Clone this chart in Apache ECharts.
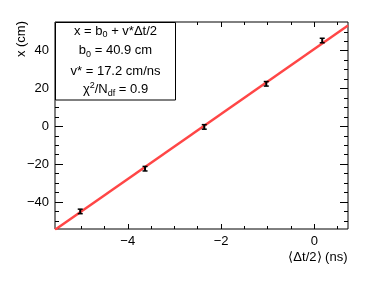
<!DOCTYPE html>
<html><head><meta charset="utf-8">
<script src="https://cdn.jsdelivr.net/npm/echarts@6/dist/echarts.min.js"></script>
<style>html,body{margin:0;padding:0;background:#fff}#c{width:390px;height:281px}</style>
</head><body><div id="c"></div>
<script>
// Data
const dtHalf = [-5.02, -3.63, -2.36, -1.03, 0.17];   // <Δt/2> (ns)
const xPos   = [-45.0, -22.4, -0.3, 22.5, 45.4];     // x (cm)
const xErr   = [1.2, 1.2, 1.2, 1.2, 1.2];            // error on x (cm)
const fitX   = [-5.56, 0.723];                        // fit line ends (ns)
const fitY   = [-54.7, 53.3];                         // fit line ends (cm)
const xMajorTicks = [-4, -2, 0];
const xMinorTicks = [-5.5, -5, -4.5, -3.5, -3, -2.5, -1.5, -1, -0.5, 0.5];
const yMajorTicks = [-40, -20, 0, 20, 40];
const yMinorTicks = [-50, -45, -35, -30, -25, -15, -10, -5, 5, 10, 15, 25, 30, 35, 45, 50];
const xRange = [-5.561, 0.723];
const yRange = [-54.3, 55.2];

const FONT = 'Liberation Sans';
const fmt = v => v < 0 ? '\u2212' + (-v) : String(v);

function xAx(pos, ticks, len, labels) {
  return {
    type: 'value', gridIndex: 0, position: pos, min: xRange[0], max: xRange[1],
    axisLine: {show: false, onZero: false}, splitLine: {show: false},
    axisTick: {show: true, inside: true, length: len, customValues: ticks, lineStyle: {color: '#000', width: 1}},
    axisLabel: labels ? {show: true, customValues: ticks, formatter: fmt, margin: 6, fontSize: 13, color: '#000', fontFamily: FONT} : {show: false}
  };
}
function yAx(pos, ticks, len, labels) {
  return {
    type: 'value', gridIndex: 0, position: pos, min: yRange[0], max: yRange[1],
    axisLine: {show: false, onZero: false}, splitLine: {show: false},
    axisTick: {show: true, inside: true, length: len, customValues: ticks, lineStyle: {color: '#000', width: 1}},
    axisLabel: labels ? {show: true, customValues: ticks, formatter: fmt, margin: 6, fontSize: 13, color: '#000', fontFamily: FONT} : {show: false}
  };
}

const points = dtHalf.map((t, i) => [t, xPos[i], xErr[i]]);
const fitData = fitX.map((t, i) => [t, fitY[i]]);

const chart = echarts.init(document.getElementById('c'), null, {renderer: 'canvas'});
const rich = {
  n: {fontSize: 13, fontFamily: FONT, color: '#000'},
  s: {fontSize: 9, fontFamily: FONT, color: '#000', padding: [8, 0, 0, 0]},
  p: {fontSize: 9, fontFamily: FONT, color: '#000', padding: [0, 0, 8, 0]}
};
chart.setOption({
  animation: false,
  grid: {left: 55, top: 22, width: 293, height: 207, show: true, borderColor: '#000', borderWidth: 1, backgroundColor: 'transparent', containLabel: false},
  xAxis: [xAx('bottom', xMajorTicks, 5, true), xAx('bottom', xMinorTicks, 3, false), xAx('top', xMajorTicks, 5, false), xAx('top', xMinorTicks, 3, false)],
  yAxis: [yAx('left', yMajorTicks, 8, true), yAx('left', yMinorTicks, 4, false), yAx('right', yMajorTicks, 8, false), yAx('right', yMinorTicks, 4, false)],
  series: [
    {type: 'line', xAxisIndex: 0, yAxisIndex: 0, data: fitData, symbol: 'none', clip: true,
     lineStyle: {color: '#ff4646', width: 2.5}, z: 2},
    {type: 'custom', xAxisIndex: 0, yAxisIndex: 0, data: points, z: 3,
     renderItem: function (params, api) {
       const x = api.value(0), y = api.value(1), e = api.value(2);
       const top = api.coord([x, y + e]);
       const bot = api.coord([x, y - e]);
       const hw = 2.5;
       return {type: 'group', children: [
         {type: 'line', shape: {x1: top[0], y1: top[1], x2: bot[0], y2: bot[1]}, style: {stroke: '#000', lineWidth: 2}},
         {type: 'line', shape: {x1: top[0] - hw, y1: top[1], x2: top[0] + hw, y2: top[1]}, style: {stroke: '#000', lineWidth: 1.5}},
         {type: 'line', shape: {x1: bot[0] - hw, y1: bot[1], x2: bot[0] + hw, y2: bot[1]}, style: {stroke: '#000', lineWidth: 1.5}}
       ]};
     }}
  ],
  graphic: [
    {type: 'rect', shape: {x: 55.5, y: 22.5, width: 120, height: 77.5}, style: {fill: '#fff', stroke: '#000', lineWidth: 1}, z: 100},
    {type: 'text', x: 115.5, y: 31, style: {text: '{n|x = b}{s|0}{n| + v*\u0394t/2}', rich: rich, align: 'center', verticalAlign: 'middle'}, z: 101},
    {type: 'text', x: 115.5, y: 50.5, style: {text: '{n|b}{s|0}{n| = 40.9 cm}', rich: rich, align: 'center', verticalAlign: 'middle'}, z: 101},
    {type: 'text', x: 115.5, y: 71, style: {text: '{n|v* = 17.2 cm/ns}', rich: rich, align: 'center', verticalAlign: 'middle'}, z: 101},
    {type: 'text', x: 115.5, y: 89.5, style: {text: '{n|\u03C7}{p|2}{n|/N}{s|df}{n| = 0.9}', rich: rich, align: 'center', verticalAlign: 'middle'}, z: 101},
    {type: 'text', x: 21, y: 21, rotation: Math.PI / 2, style: {text: 'x (cm)', font: '13px ' + FONT, fill: '#000', align: 'right', verticalAlign: 'middle'}, z: 101},
    {type: 'text', x: 347.5, y: 257.5, style: {text: '\u27E8\u0394t/2\u27E9 (ns)', font: '13px ' + FONT, fill: '#000', align: 'right', verticalAlign: 'middle'}, z: 101}
  ]
});
</script></body></html>
